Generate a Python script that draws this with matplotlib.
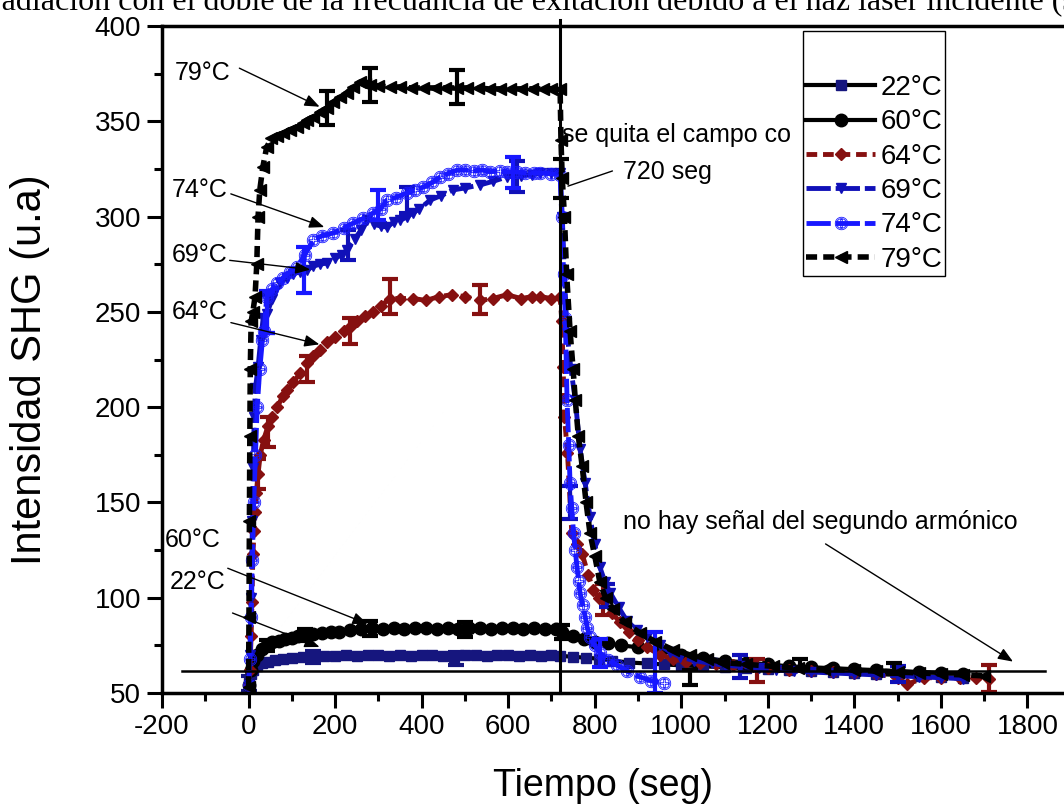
import matplotlib
matplotlib.use("Agg")
import matplotlib.pyplot as plt
from matplotlib.ticker import MultipleLocator, FixedLocator

plt.rcParams["font.family"] = ["Liberation Sans", "DejaVu Sans"]
plt.rcParams["axes.unicode_minus"] = False

# ---- data (time in s, SHG intensity in a.u.) ----
t22 = [0, 5, 10, 20, 30, 45, 60, 80, 100, 125, 150, 175, 200, 225, 250, 275, 300,
       325, 350, 375, 400, 425, 450, 475, 500, 525, 550, 575, 600, 625, 650, 675,
       700, 720, 750, 780, 810, 840, 880, 920, 960, 1000, 1050, 1100, 1150, 1200,
       1250, 1300, 1350, 1400, 1450, 1500, 1550, 1600, 1650]
y22 = [55, 60, 62, 64, 65.5, 66.5, 67.5, 68, 68.5, 69, 69, 69.5, 69.5, 70, 69.5, 70,
       70, 69.5, 70, 69.5, 70, 70, 69.5, 69, 70, 70, 69.5, 70, 70, 69.5, 70, 69.5,
       70, 69.5, 69, 68.5, 68, 67, 66, 65.5, 65, 64.5, 64, 63.5, 63, 62.5, 62, 61.5,
       61, 60.5, 60, 59.5, 59, 58.5, 58]

t60 = [0, 5, 10, 20, 30, 42, 55, 70, 85, 100, 115, 130, 150, 170, 190, 210, 235, 260,
       285, 310, 335, 360, 385, 410, 435, 460, 485, 510, 535, 560, 585, 610, 635, 660,
       685, 710, 725, 750, 775, 800, 830, 860, 900, 950, 1000, 1050, 1100, 1150, 1200,
       1250, 1300, 1350, 1400, 1450, 1500, 1550, 1600, 1650]
y60 = [54, 62, 67, 70, 73, 75, 76.5, 77.5, 78.5, 79, 80, 80.5, 81, 81.5, 82, 82, 83,
       83.5, 84, 83.5, 84, 83.5, 84, 84, 83.5, 84, 83.5, 84, 84, 83.5, 84, 84, 83.5, 84,
       83.5, 83.5, 82, 80, 78.5, 77, 76, 75, 74, 72, 70, 68.5, 67, 66, 65, 64, 63.5,
       63, 62.5, 62, 61.5, 61, 60.5, 60]

t64 = [0, 3, 6, 8, 10, 13, 15, 18, 22, 27, 35, 45, 55, 66, 80, 90, 103, 120, 135, 150,
       165, 181, 200, 220, 235, 250, 270, 288, 305, 327, 350, 381, 410, 440, 470, 500,
       535, 565, 597, 630, 655, 674, 700, 720, 724, 727, 730, 737, 747, 760, 771, 785,
       797, 810, 820, 840, 859, 880, 900, 921, 950, 980, 1010, 1044, 1080, 1120, 1166,
       1200, 1250, 1300, 1350, 1400, 1450, 1500, 1522, 1560, 1600, 1645, 1680, 1710]
y64 = [54, 62, 80, 98, 123, 135, 145, 155, 165, 175, 183, 190, 195, 200, 206, 209, 213,
       218, 223, 227, 230, 234, 237, 240, 242, 245, 248, 250, 253, 257, 257, 257, 256,
       258, 259, 258, 256, 257, 259, 257, 258, 258, 257, 258, 245, 221, 195, 176, 134,
       128, 123, 112, 104, 100, 99, 92, 87, 82, 78, 74, 70, 68, 66.5, 65.7, 65, 64.5,
       64, 63, 62, 61.5, 61, 60.5, 60, 58, 54.5, 58, 58, 57.9, 58, 57.6]

t69 = [0, 3, 6, 9, 11, 13, 16, 22, 28, 34, 42, 55, 73, 88, 103, 120, 135, 150, 165,
       181, 200, 215, 227, 245, 260, 274, 290, 305, 320, 335, 350, 366, 380, 395, 420,
       445, 473, 500, 535, 565, 597, 630, 655, 674, 700, 720, 725, 730, 736, 745, 755,
       766, 778, 789, 800, 812, 824, 836, 855, 874, 897, 921, 950, 975, 998, 1030, 1070,
       1100, 1136, 1180, 1220, 1260, 1300, 1350, 1400, 1450, 1500, 1550, 1600, 1650]
y69 = [54, 70, 100, 140, 168, 195, 210, 221, 235, 247, 249, 257, 265, 268, 270, 271,
       272, 274, 275, 275.6, 278, 280, 282.5, 288, 293, 298, 296, 295, 294.5, 297, 298,
       299.8, 302, 304, 308.7, 311, 314, 315, 316.6, 318.5, 320.8, 321.5, 322, 322.9,
       323, 323, 300, 270, 239, 220, 204, 178, 160, 142.5, 128, 116, 108, 102.5, 95,
       88, 83, 79.4, 75, 71.5, 68.9, 67, 65.5, 64.5, 64, 63, 62, 61.5, 61, 60.5, 60,
       59.5, 59, 58.5, 58, 57.5]

t74 = [0, 3, 6, 9, 12, 16, 20, 26, 32, 36, 42, 55, 65, 80, 95, 112, 130, 150, 170, 196,
       220, 242, 265, 288, 305, 320, 340, 366, 385, 404, 425, 443, 460, 482, 500, 520,
       540, 558, 580, 597, 620, 640, 660, 674, 700, 720, 724, 728, 732, 736, 740, 743,
       747, 751, 755, 759, 763, 766, 772, 778, 783, 789, 800, 812, 830, 851, 875, 905,
       930, 959]
y74 = [54, 68, 90, 120, 150, 175, 200, 220, 235, 240, 258, 262, 265, 268, 271, 273.5,
       280, 287.7, 290, 291.4, 294, 296.6, 299, 301.9, 304, 308.7, 310, 312.4, 314,
       315.5, 318, 320.8, 322.5, 324.4, 324.5, 324, 324.5, 323.6, 324, 323.6, 323.5,
       323, 323, 322.9, 322.5, 322, 300, 270, 247, 204, 180, 160, 147, 134, 125, 116,
       109, 102.5, 96, 90, 84, 79.4, 75, 71, 67.5, 64.7, 61.5, 58.4, 56.5, 55.2]

t79 = [0, 1, 2, 3, 4, 6, 10, 15, 19, 22, 26, 33, 42, 53, 65, 80, 95, 112, 125, 135,
       150, 165, 181, 196, 211, 227, 242, 258, 270, 281, 300, 327, 350, 375, 404, 430,
       455, 482, 505, 530, 555, 580, 605, 630, 655, 680, 700, 720, 722, 725, 730, 735,
       743, 750, 755, 762, 771, 780, 789, 800, 812, 825, 843, 870, 905, 940, 982, 1020,
       1060, 1097, 1150, 1213, 1270, 1330, 1400, 1450, 1500, 1550, 1600, 1650, 1700]
y79 = [53, 90, 140, 185, 220, 245, 250, 258, 275, 300, 314, 326, 336.5, 341, 342.5,
       344, 345.5, 347, 349, 350.7, 352.5, 355, 357, 360, 362.7, 365, 368, 370.6,
       369.5, 369, 368.5, 368, 368, 367.5, 367.5, 367.5, 367.5, 367.5, 367.5, 367.5,
       367, 367, 367, 367, 367, 367, 367, 367, 340, 320, 300, 270, 240, 220, 204, 185,
       169, 150, 134, 122, 108, 100, 94, 87, 81.5, 77, 72.6, 70, 68, 66, 65, 64, 63,
       62.5, 62, 61.5, 61, 60.5, 60, 59.5, 59]

# error bars (time, value, half-width)
e22_t, e22_y, e22_d = [0, 150, 480], [55, 69, 68], [4, 3, 3.5]
e60_t, e60_y, e60_d = [42, 130, 281, 500, 725], [75, 80.5, 84, 83.5, 82], [3, 3, 4, 4, 3.5]
e64_t = [22, 45, 135, 235, 327, 535, 820, 1175, 1710]
e64_y = [165, 187, 220, 240, 258, 256.6, 99, 62, 57.6]
e64_d = [8, 8, 7, 7, 9, 7.5, 8, 6, 7]
e69_t = [42, 230, 366, 620, 743, 829, 1136, 1500]
e69_y = [249, 285, 308.7, 321, 150, 101, 64, 60]
e69_d = [10, 8, 7, 8, 8.7, 6, 6, 4]
e74_t = [42, 127, 300, 612, 812, 940]
e74_y = [250, 272, 306, 323, 71, 66]
e74_d = [11, 12, 8, 8, 7.5, 16]
e79_t = [181, 281, 482, 722, 1021, 1275, 1491]
e79_y = [357, 369, 368, 320, 58, 65, 63]
e79_d = [9, 9, 9, 10, 4, 3, 3]

labels = ["22°C", "60°C", "64°C", "69°C", "74°C", "79°C"]
x_ticks = [-200, 0, 200, 400, 600, 800, 1000, 1200, 1400, 1600, 1800]

navy = "#16167e"
red = "#861010"
blue69 = "#1010b8"
blue74 = "#1818ff"

fig = plt.figure(figsize=(10.64, 8.08), dpi=100)
ax = fig.add_axes([162 / 1064, 115 / 808, 952 / 1064, 667 / 808])

styles = [
    (t22, y22, e22_t, e22_y, e22_d, dict(color="black", ls="-", lw=3, marker="s", ms=7,
                                          mfc=navy, mec=navy), navy),
    (t60, y60, e60_t, e60_y, e60_d, dict(color="black", ls="-", lw=3, marker="o", ms=9,
                                          mfc="black", mec="black"), "black"),
    (t64, y64, e64_t, e64_y, e64_d, dict(color=red, ls=(0, (2.2, 1.2)), lw=3.5, marker="D",
                                          ms=6, mfc=red, mec=red), red),
    (t69, y69, e69_t, e69_y, e69_d, dict(color=blue69, ls=(0, (5, 1)), lw=3.5, marker="v",
                                          ms=7, mfc=blue69, mec=blue69), blue69),
    (t74, y74, e74_t, e74_y, e74_d, dict(color=blue74, ls=(0, (5, 1)), lw=3.5,
                                          marker=r"$\oplus$", ms=9, mfc="none",
                                          mec=blue74, mew=0.6), blue74),
    (t79, y79, e79_t, e79_y, e79_d, dict(color="black", ls=(0, (2, 1.1)), lw=4, marker="<",
                                          ms=9, mfc="black", mec="black"), "black"),
]

for (t, y, et, ey, ed, kw, ecol), lab in zip(styles, labels):
    ax.plot(t, y, label=lab, **kw)
    ax.errorbar(et, ey, yerr=ed, fmt="none", ecolor=ecol, elinewidth=3, capsize=6,
                capthick=3)

ax.set_xlim(-200, 2000)
ax.set_ylim(50, 400)
ax.xaxis.set_major_locator(FixedLocator(x_ticks))
ax.xaxis.set_minor_locator(MultipleLocator(100))
ax.yaxis.set_major_locator(MultipleLocator(50))
ax.yaxis.set_minor_locator(MultipleLocator(25))
ax.tick_params(which="both", direction="out", width=2.2, labelsize=20, pad=4)
ax.tick_params(which="major", length=11)
ax.tick_params(which="minor", length=6)
for sp in ax.spines.values():
    sp.set_linewidth(2.5)

# reference lines
ax.plot([720, 720], [50, 403], color="black", lw=2.2, clip_on=False, zorder=5)
ax.plot([-154, 1841], [61.6, 61.6], color="black", lw=1.8, zorder=5)

# annotations
arrow = dict(arrowstyle="-|>,head_length=0.45,head_width=0.18", color="black", lw=1,
             mutation_scale=20)
notes = [
    ("79°C", (-170, 375.3), (-27, 378.5), (170, 357)),
    ("74°C", (-177, 314), (-47, 312.4), (181, 294)),
    ("69°C", (-177, 279.8), (-50, 277.2), (149, 272)),
    ("64°C", (-177, 250), (-47, 244.7), (170, 232.6)),
    ("60°C", (-193, 130.3), (-54, 116), (281, 85.7)),
    ("22°C", (-181, 108.2), (-43, 92.5), (170, 73.6)),
]
for txt, tpos, start, head in notes:
    ax.text(tpos[0], tpos[1], txt, fontsize=18, va="center", ha="left")
    ax.annotate("", xy=head, xytext=start, arrowprops=arrow)

ax.text(725, 342.8, "se quita el campo co", fontsize=18, va="center", ha="left")
ax.text(866, 323.4, "720 seg", fontsize=18, va="center", ha="left")
ax.annotate("", xy=(732, 315.5), xytext=(847, 324.4),
            arrowprops=dict(arrowstyle="-", color="black", lw=1))
ax.text(866, 139.7, "no hay señal del segundo armónico", fontsize=18, va="center",
        ha="left")
ax.annotate("", xy=(1772, 65.7), xytext=(1328, 129), arrowprops=arrow)

leg = ax.legend(loc="upper left", bbox_to_anchor=(803 / 1064, 1 - 31 / 808),
                bbox_transform=fig.transFigure, borderaxespad=0, fontsize=20,
                title=" ", title_fontsize=25, frameon=True, fancybox=False,
                edgecolor="black", framealpha=1, borderpad=0.1, labelspacing=0.3,
                handlelength=2.5, handletextpad=0.2, numpoints=1)
leg.get_frame().set_linewidth(1)

fig.text(603 / 1064, 1 - 786 / 808, "Tiempo (seg)", fontsize=27, ha="center", va="center")
fig.text(30 / 1064, 1 - 370 / 808, "Intensidad SHG (u.a)", fontsize=30, rotation=90,
         ha="center", va="center")

fig.text(-0.008, 1 - 10 / 808,
         "radiación con el doble de la frecuancia de exitación debido a el haz laser "
         "incidente (s", family=["Liberation Serif", "DejaVu Serif"], fontsize=23,
         ha="left", va="baseline")

fig.savefig("out.png", dpi=100)
